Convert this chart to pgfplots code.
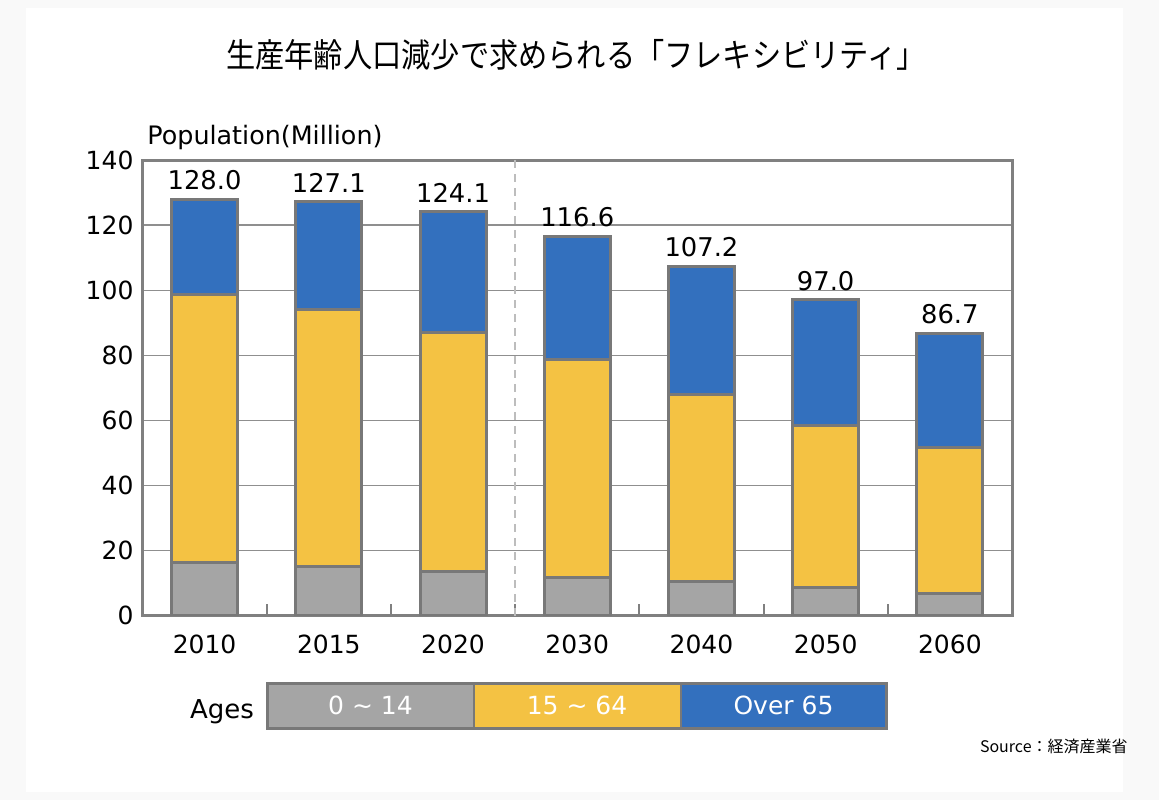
\documentclass[border=0pt]{standalone}
\usepackage{pgfplots}
\pgfplotsset{compat=1.18}
\usepackage{pgfplotstable}
\usepackage{fontspec}
\setmainfont{DejaVu Sans}
\newfontfamily\cjk{Noto Sans CJK JP}
\definecolor{cgray}{HTML}{A5A5A5}
\definecolor{cyellow}{HTML}{F4C243}
\definecolor{cblue}{HTML}{3370BE}
\definecolor{edgegray}{HTML}{787878}
\definecolor{axisgray}{HTML}{808080}
\definecolor{gridgray}{HTML}{8F8F8F}
\definecolor{dashgray}{HTML}{BDBDBD}
\definecolor{bggray}{HTML}{F9F9F9}

\pgfplotstableread{
x tot p0 p1 p2
0 128.0 16.2 82.5 29.3
1 127.1 15.1 79.0 33.0
2 124.1 13.6 73.3 37.2
3 116.6 11.8 66.9 37.9
4 107.2 10.5 57.4 39.3
5 97.0 8.5 50.0 38.5
6 86.7 6.9 44.6 35.2
}\datatable

\begin{document}
\begin{tikzpicture}
\fill[bggray] (0,0) rectangle (579.5pt,400pt);
\useasboundingbox (0,0) rectangle (579.5pt,400pt);
\fill[white] (13pt,4pt) rectangle (561.5pt,396pt);

\node at (288pt,372.5pt) {\scalebox{0.88}[1]{\cjk\fontsize{16.6}{20}\selectfont 生産年齢人口減少で求められる「フレキシビリティ」}};

\node[anchor=base west, inner sep=0pt, font=\fontsize{12.7}{15}\selectfont] at (73.5pt,328pt) {Population(Million)};

\begin{axis}[
  at={(71.25pt,92.25pt)}, anchor=south west,
  scale only axis, width=434.75pt, height=227.75pt,
  ybar stacked, bar width=33pt,
  xmin=-0.5, xmax=6.5, ymin=0, ymax=140,
  ytick={0,20,...,140},
  xtick={0,...,6},
  xticklabels={2010,2015,2020,2030,2040,2050,2060},
  minor xtick={0.5,1.5,...,5.5},
  tick pos=left,
  major tick length=0pt, minor tick length=6pt, tick align=inside,
  minor tick style={draw=axisgray, line width=1pt},
  axis line style={draw=axisgray, line width=1.5pt},
  ymajorgrids, grid style={draw=gridgray, line width=0.6pt},
  /pgf/number format/assume math mode=true,
  ticklabel style={font=\fontsize{12.5}{15}\selectfont},
  xticklabel style={yshift=-6pt},
  yticklabel style={xshift=-1pt},
]
\addplot[fill=cgray, draw=edgegray, line width=1.5pt] table[x=x, y=p0] {\datatable};
\addplot[fill=cyellow, draw=edgegray, line width=1.5pt] table[x=x, y=p1] {\datatable};
\addplot[fill=cblue, draw=edgegray, line width=1.5pt] table[x=x, y=p2] {\datatable};
\draw[dash pattern=on 4pt off 3pt, draw=dashgray, line width=1pt] (axis cs:2.5,0) -- (axis cs:2.5,140);
\end{axis}

\begin{axis}[
  at={(71.25pt,92.25pt)}, anchor=south west,
  scale only axis, width=434.75pt, height=227.75pt,
  xmin=-0.5, xmax=6.5, ymin=0, ymax=140,
  hide axis,
  /pgf/number format/assume math mode=true,
]
\addplot[only marks, mark=none,
  point meta=explicit,
  nodes near coords={\pgfmathprintnumber[fixed,fixed zerofill,precision=1,assume math mode=true]{\pgfplotspointmeta}},
  nodes near coords style={font=\fontsize{12.9}{15}\selectfont, text=black, anchor=south, inner sep=4.5pt}
  ] table[x=x, y=tot, meta=tot] {\datatable};
\end{axis}

% legend
\node[font=\fontsize{13}{15}\selectfont] at (111pt,44pt) {Ages};
\begin{scope}[every node/.style={minimum width=103pt, minimum height=22.5pt, inner sep=0pt, text=white, font=\fontsize{12.5}{15}\selectfont}]
\node[fill=cgray] at (185.25pt,47.25pt) {0 \textasciitilde{} 14};
\node[fill=cyellow] at (288.5pt,47.25pt) {15 \textasciitilde{} 64};
\node[fill=cblue] at (391.75pt,47.25pt) {Over 65};
\end{scope}
\draw[draw=edgegray, line width=1.5pt] (133.75pt,36pt) rectangle (443.25pt,58.5pt);
\draw[draw=edgegray, line width=1pt] (236.75pt,36pt) -- (236.75pt,58.5pt);
\draw[draw=edgegray, line width=1pt] (340.25pt,36pt) -- (340.25pt,58.5pt);

\node[anchor=east, inner sep=0pt, font=\cjk\fontsize{8}{10}\selectfont] at (564pt,27pt) {Source：経済産業省};
\end{tikzpicture}
\end{document}
